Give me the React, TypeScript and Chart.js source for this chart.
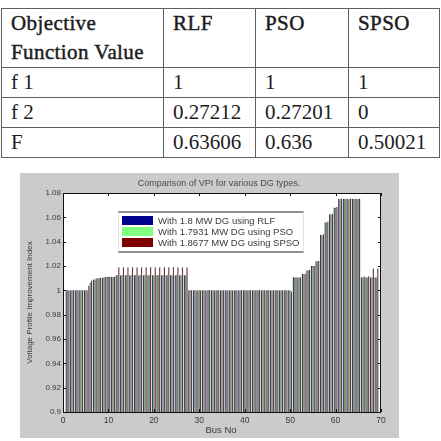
import React, { useEffect, useRef } from "react";
import { Chart, registerables } from "chart.js";

Chart.register(...registerables);

// ---- table data ----
const tableHeaderLines = ["Objective", "Function Value"];
const tableHeaderCols = ["RLF", "PSO", "SPSO"];
const tableRowLabels = ["f 1", "f 2", "F"];
const tableRLF = ["1", "0.27212", "0.63606"];
const tablePSO = ["1", "0.27201", "0.636"];
const tableSPSO = ["1", "0", "0.50021"];

// ---- chart data ----
const chartTitle = "Comparison of VPI for various DG types.";
const xAxisTitle = "Bus No";
const yAxisTitle = "Voltage Profile Improvement Index";
const seriesNames = [
  "With 1.8 MW DG using RLF",
  "With 1.7931 MW DG using PSO",
  "With 1.8677 MW DG using SPSO",
];
const seriesColors = ["#00008f", "#80ff80", "#800000"];

const busNo = [
  1, 2, 3, 4, 5, 6, 7, 8, 9, 10, 11, 12, 13, 14, 15, 16, 17, 18, 19, 20, 21, 22, 23,
  24, 25, 26, 27, 28, 29, 30, 31, 32, 33, 34, 35, 36, 37, 38, 39, 40, 41, 42, 43, 44,
  45, 46, 47, 48, 49, 50, 51, 52, 53, 54, 55, 56, 57, 58, 59, 60, 61, 62, 63, 64, 65,
  66, 67, 68, 69,
];

const rlf = [
  1, 1, 1, 1, 1, 1.004, 1.009, 1.01, 1.0105, 1.011, 1.011,
  1.0125, 1.0125, 1.0125, 1.0125, 1.0125, 1.0125, 1.0125, 1.0125, 1.0125, 1.0125,
  1.0125, 1.0125, 1.0125, 1.0125, 1.0125, 1.0125,
  1, 1, 1, 1, 1, 1, 1, 1, 1, 1, 1, 1, 1, 1, 1, 1, 1, 1, 1, 1, 1, 1, 1,
  1.0107, 1.0107, 1.0134, 1.0165, 1.02, 1.024, 1.0455, 1.056, 1.0625, 1.068,
  1.075, 1.075, 1.075, 1.075, 1.075, 1.0107, 1.0107, 1.0107, 1.0107,
];
const pso = [
  1, 1, 1, 1, 1, 1.006, 1.009, 1.01, 1.0105, 1.011, 1.011,
  1.0123, 1.0123, 1.0123, 1.0123, 1.0123, 1.0123, 1.0123, 1.0123, 1.0123, 1.0123,
  1.0123, 1.0123, 1.0123, 1.0123, 1.0123, 1.0123,
  1, 1, 1, 1, 1, 1, 1, 1, 1, 1, 1, 1, 1, 1, 1, 1, 1, 1, 1, 1, 1, 1, 1,
  1.0106, 1.0106, 1.0133, 1.0164, 1.0199, 1.0239, 1.0453, 1.0558, 1.0623, 1.0678,
  1.0748, 1.0748, 1.0748, 1.0748, 1.0748, 1.0106, 1.0106, 1.0106, 1.0106,
];
const spso = [
  1, 1, 1, 1, 1, 1.008, 1.01, 1.0105, 1.011, 1.0112, 1.0112,
  1.019, 1.019, 1.019, 1.019, 1.019, 1.019, 1.019, 1.019, 1.019, 1.019,
  1.019, 1.019, 1.019, 1.019, 1.019, 1.019,
  1, 1, 1, 1, 1, 1, 1, 1, 1, 1, 1, 1, 1, 1, 1, 1, 1, 1, 1, 1, 1, 1, 0.999,
  1.0108, 1.0108, 1.0136, 1.0168, 1.0202, 1.0243, 1.046, 1.0565, 1.063, 1.0685,
  1.0755, 1.0755, 1.0755, 1.0755, 1.0755, 1.0115, 1.0115, 1.018, 1.018,
];

const xTicks = [0, 10, 20, 30, 40, 50, 60, 70];
const yTicks = [0.9, 0.92, 0.94, 0.96, 0.98, 1, 1.02, 1.04, 1.06, 1.08];
const yTickLabels = ["0.9", "0.92", "0.94", "0.96", "0.98", "1", "1.02", "1.04", "1.06", "1.08"];

const FONT = '"Liberation Sans", Arial, sans-serif';
const TXT = "#3a3a3a";

function ChartBox() {
  const ref = useRef<HTMLCanvasElement | null>(null);
  useEffect(() => {
    const canvas = ref.current;
    if (!canvas) return;
    const seriesValues = [rlf, pso, spso];
    const decor = {
      id: "decor",
      beforeDraw(chart: any) {
        const { ctx, chartArea: a, width, height } = chart;
        ctx.save();
        ctx.fillStyle = "#cbcbcb";
        ctx.fillRect(0, 0, width, height);
        ctx.fillStyle = "#ffffff";
        ctx.fillRect(a.left, a.top, a.right - a.left, a.bottom - a.top);
        ctx.restore();
      },
      afterDatasetsDraw(chart: any) {
        const { ctx, chartArea: a, scales } = chart;
        ctx.save();
        // box
        ctx.strokeStyle = "#111";
        ctx.lineWidth = 1;
        ctx.strokeRect(a.left + 0.5, a.top + 0.5, a.right - a.left - 1, a.bottom - a.top);
        // inward ticks
        const tl = 3;
        ctx.beginPath();
        xTicks.forEach((v) => {
          const px = Math.round(scales.x.getPixelForValue(v)) + 0.5;
          ctx.moveTo(px, a.top);
          ctx.lineTo(px, a.top + tl);
          ctx.moveTo(px, a.bottom);
          ctx.lineTo(px, a.bottom - tl);
        });
        yTicks.forEach((v) => {
          const py = Math.round(scales.y.getPixelForValue(v)) + 0.5;
          ctx.moveTo(a.left, py);
          ctx.lineTo(a.left + tl, py);
          ctx.moveTo(a.right, py);
          ctx.lineTo(a.right - tl, py);
        });
        ctx.stroke();

        // legend
        const lx = 98, ly = 39, lw = 186, lh = 40;
        ctx.fillStyle = "#ffffff";
        ctx.fillRect(lx, ly, lw, lh);
        ctx.strokeStyle = "#6a6a6a";
        ctx.lineWidth = 1.5;
        ctx.beginPath();
        ctx.moveTo(lx, ly);
        ctx.lineTo(lx + lw, ly);
        ctx.moveTo(lx, ly + lh);
        ctx.lineTo(lx + lw, ly + lh);
        ctx.stroke();
        ctx.strokeStyle = "#e4e4e4";
        ctx.lineWidth = 1;
        ctx.beginPath();
        ctx.moveTo(lx + 0.5, ly);
        ctx.lineTo(lx + 0.5, ly + lh);
        ctx.moveTo(lx + lw - 0.5, ly);
        ctx.lineTo(lx + lw - 0.5, ly + lh);
        ctx.stroke();
        ctx.font = `9.5px ${FONT}`;
        ctx.textBaseline = "middle";
        ctx.textAlign = "left";
        seriesNames.forEach((name, i) => {
          const sy = ly + 4 + i * 11;
          ctx.fillStyle = seriesColors[i];
          ctx.fillRect(lx + 4, sy, 31, 9);
          ctx.fillStyle = TXT;
          ctx.fillText(name, lx + 40, sy + 5);
        });

        // title and axis titles
        ctx.fillStyle = "#4a4a4a";
        ctx.font = `9px ${FONT}`;
        ctx.textAlign = "center";
        ctx.fillText(chartTitle, 199, 11);
        ctx.fillStyle = TXT;
        ctx.font = `9.5px ${FONT}`;
        ctx.fillText(xAxisTitle, 201, 257);
        ctx.font = `8px ${FONT}`;
        ctx.translate(10, (a.top + a.bottom) / 2);
        ctx.rotate(-Math.PI / 2);
        ctx.fillText(yAxisTitle, 0, 0);
        ctx.restore();
      },
    };

    const chart = new Chart(canvas, {
      type: "bar",
      data: {
        datasets: seriesNames.map((name, i) => ({
          label: name,
          data: busNo.map((b, j) => ({ x: b, y: seriesValues[i][j] })),
          backgroundColor: seriesColors[i],
          borderColor: "#000000",
          borderWidth: 0.5,
          borderSkipped: "bottom",
          categoryPercentage: 0.9,
          barPercentage: 1,
        })),
      },
      options: {
        animation: false,
        responsive: false,
        maintainAspectRatio: false,
        layout: { padding: { top: 20, right: 18, left: 0, bottom: 0 } },
        plugins: { legend: { display: false }, title: { display: false }, tooltip: { enabled: false } },
        scales: {
          x: {
            type: "linear",
            min: 0,
            max: 70,
            offset: false,
            grid: { display: false, drawTicks: false },
            border: { display: false },
            ticks: {
              padding: 4,
              color: TXT,
              font: { family: FONT, size: 8.5 },
              callback: (v: any) => String(v),
            },
            afterBuildTicks: (s: any) => {
              s.ticks = xTicks.map((v) => ({ value: v }));
            },
            afterFit: (s: any) => {
              s.height = 26;
            },
          },
          y: {
            type: "linear",
            min: 0.9,
            max: 1.08,
            grid: { display: false, drawTicks: false },
            border: { display: false },
            ticks: {
              padding: 2,
              color: TXT,
              font: { family: FONT, size: 8 },
              callback: (_v: any, i: number) => yTickLabels[i],
            },
            afterBuildTicks: (s: any) => {
              s.ticks = yTicks.map((v) => ({ value: v }));
            },
            afterFit: (s: any) => {
              s.width = 43;
            },
          },
        },
      },
      plugins: [decor],
    });
    return () => chart.destroy();
  }, []);
  return (
    <canvas
      ref={ref}
      width={379}
      height={265}
      style={{ position: "absolute", left: 20, top: 173, width: 379, height: 265 }}
    />
  );
}

export default function App() {
  const cell: React.CSSProperties = {
    border: "1.5px solid #5e5e5e",
    padding: "0 0 0 9px",
    verticalAlign: "top",
    textAlign: "left",
    fontFamily: '"Liberation Serif", "Times New Roman", serif',
    fontSize: 21,
    lineHeight: "29px",
    color: "#1c1c1c",
    whiteSpace: "nowrap",
  };
  const head: React.CSSProperties = {
    ...cell,
    fontWeight: "normal",
    letterSpacing: "0.4px",
    WebkitTextStroke: "0.45px #1c1c1c",
  };
  const cols = [tableRLF, tablePSO, tableSPSO];
  return (
    <div style={{ position: "fixed", left: 0, top: 0, width: 441, height: 441, background: "#fff", overflow: "hidden" }}>
      <table
        style={{
          position: "absolute",
          left: 1,
          top: 8,
          width: 438,
          borderCollapse: "collapse",
          tableLayout: "fixed",
        }}
      >
        <colgroup>
          <col style={{ width: 162 }} />
          <col style={{ width: 92 }} />
          <col style={{ width: 93 }} />
          <col style={{ width: 91 }} />
        </colgroup>
        <tbody>
          <tr style={{ height: 58 }}>
            <td style={head}>
              {tableHeaderLines[0]}
              <br />
              {tableHeaderLines[1]}
            </td>
            {tableHeaderCols.map((h) => (
              <td key={h} style={head}>{h}</td>
            ))}
          </tr>
          {tableRowLabels.map((r, i) => (
            <tr key={r} style={{ height: 30 }}>
              <td style={cell}>{r}</td>
              {cols.map((c, j) => (
                <td key={j} style={cell}>{c[i]}</td>
              ))}
            </tr>
          ))}
        </tbody>
      </table>
      <ChartBox />
    </div>
  );
}
